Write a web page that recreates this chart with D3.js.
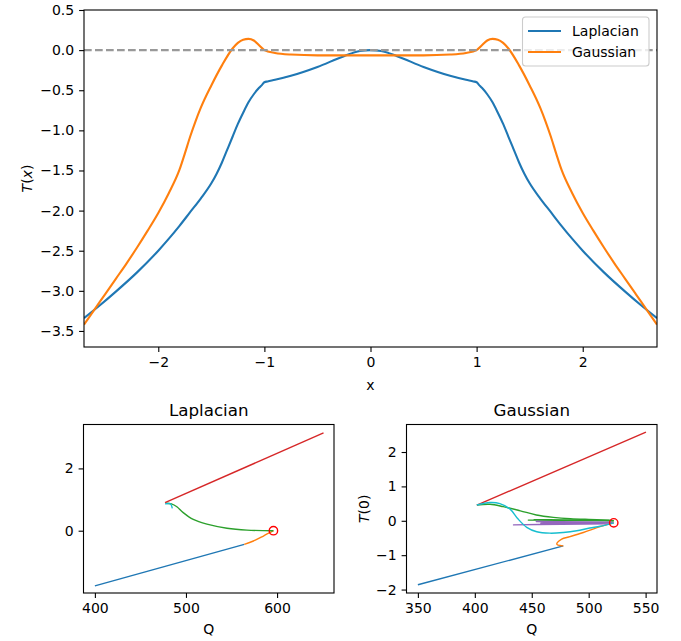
<!DOCTYPE html>
<html>
<head>
<meta charset="utf-8">
<script src="https://cdn.jsdelivr.net/npm/d3@7"></script>
<style>
  body { margin: 0; background: #fff; }
  svg text { font-family: "DejaVu Sans", sans-serif; fill: #000; }
</style>
</head>
<body>
<svg id="svgArea" width="681" height="641"></svg>
<script>
// top panel: T(x) profiles
var lapX = [-2.7, -2.55, -2.4, -2.2, -2.0, -1.9, -1.8, -1.7, -1.6, -1.5, -1.45, -1.4, -1.35, -1.3, -1.25, -1.2, -1.15, -1.1, -1.05, -1.02, -1.0,
            -0.97, -0.9, -0.75, -0.5, -0.25, -0.1, 0,
            0.1, 0.25, 0.5, 0.75, 0.9, 0.97,
            1.0, 1.02, 1.05, 1.1, 1.15, 1.2, 1.25, 1.3, 1.35, 1.4, 1.45, 1.5, 1.6, 1.7, 1.8, 1.9, 2.0, 2.2, 2.4, 2.55, 2.7];
var lapT = [-3.34, -3.18, -3.01, -2.77, -2.50, -2.35, -2.19, -2.02, -1.85, -1.66, -1.54, -1.40, -1.24, -1.08, -0.92, -0.78, -0.65, -0.55, -0.47, -0.43, -0.40,
            -0.39, -0.37, -0.32, -0.21, -0.075, -0.012, 0.0,
            -0.012, -0.075, -0.21, -0.32, -0.37, -0.39,
            -0.40, -0.43, -0.47, -0.55, -0.65, -0.78, -0.92, -1.08, -1.24, -1.40, -1.54, -1.66, -1.85, -2.02, -2.19, -2.35, -2.50, -2.77, -3.01, -3.18, -3.34];

var gauX = [-2.7, -2.6, -2.5, -2.4, -2.3, -2.2, -2.1, -2.0, -1.9, -1.8, -1.75, -1.7, -1.65, -1.6, -1.5, -1.4, -1.3, -1.25, -1.2, -1.15, -1.1, -1.05, -1.0,
            -0.9, -0.75, -0.5, 0, 0.5, 0.75, 0.9,
            1.0, 1.05, 1.1, 1.15, 1.2, 1.25, 1.3, 1.4, 1.5, 1.6, 1.65, 1.7, 1.75, 1.8, 1.9, 2.0, 2.1, 2.2, 2.3, 2.4, 2.5, 2.6, 2.7];
var gauT = [-3.42, -3.23, -3.04, -2.85, -2.66, -2.46, -2.25, -2.03, -1.78, -1.49, -1.29, -1.08, -0.89, -0.72, -0.44, -0.19, 0.02, 0.09, 0.13, 0.14, 0.12, 0.06, 0.0,
            -0.035, -0.055, -0.065, -0.065, -0.065, -0.055, -0.035,
            0.0, 0.06, 0.12, 0.14, 0.13, 0.09, 0.02, -0.19, -0.44, -0.72, -0.89, -1.08, -1.29, -1.49, -1.78, -2.03, -2.25, -2.46, -2.66, -2.85, -3.04, -3.23, -3.42];

var topYTicks = [0.5, 0.0, -0.5, -1.0, -1.5, -2.0, -2.5, -3.0, -3.5];
var topXTicks = [-2, -1, 0, 1, 2];
var legendNames = ["Laplacian", "Gaussian"];

// bottom panels: T(0) against Q, one array per branch
var lapBlue = [[400, -1.77], [564, -0.44]];
var lapOrange = [[564, -0.44], [574, -0.33], [585, -0.17], [596, 0.0]];
var lapGreen = [[596, 0.0], [567, 0.02], [545, 0.08], [523, 0.21], [508, 0.36], [497, 0.58], [490, 0.77], [484, 0.86], [478, 0.88]];
var lapCyan = [[477, 0.86], [483, 0.86], [485, 0.72]];
var lapRed = [[477, 0.90], [651, 3.14]];
var lapPoint = [596, 0.0];

var gauBlue = [[350, -1.86], [477.7, -0.73]];
var gauOrange = [[477.7, -0.73], [474.8, -0.72], [472, -0.68], [472.6, -0.63], [476.3, -0.53], [483.6, -0.46], [495.3, -0.34], [510, -0.17], [522, -0.06]];
var gauRed = [[401.8, 0.455], [550.3, 2.58]];
var gauGreen = [[401.8, 0.46], [413.4, 0.48], [425, 0.41], [440, 0.29], [454, 0.17], [469, 0.10], [484, 0.06], [507, 0.03], [522, 0.0]];
var gauGreen2 = [[522, 0.0], [447, 0.02], [518, 0.02], [452, 0.03], [520, 0.01]];
var gauCyan = [[401.8, 0.46], [413.4, 0.53], [422, 0.50], [431, 0.34], [438, 0.05], [445.6, -0.19], [454.4, -0.32], [466, -0.36],
               [477.7, -0.34], [489.5, -0.29], [501, -0.21], [510, -0.16], [522, -0.06]];
var gauPurple = [[522, -0.06], [434, -0.12], [518, -0.09], [454, -0.02], [520, -0.04], [458, -0.07], [515, -0.08], [462, -0.05], [512, -0.05]];
var gauPoint = [522, -0.06];

var lapQTicks = [400, 500, 600];
var lapTTicks = [0, 2];
var gauQTicks = [350, 400, 450, 500, 550];
var gauTTicks = [-2, -1, 0, 1, 2];

var blue = "#1f77b4", orange = "#ff7f0e", green = "#2ca02c", red = "#d62728", purple = "#9467bd", cyan = "#17becf";

var svg = d3.select("#svgArea");
var fontSize = 14;
var tickLen = 4.9;

function drawAxes(box, xScale, yScale, xTicks, yTicks, xFmt, yFmt) {
    var g = svg.append("g");
    var xa = d3.axisBottom(xScale).tickValues(xTicks).tickFormat(xFmt)
        .tickSizeInner(tickLen).tickSizeOuter(0).tickPadding(4.9);
    var ya = d3.axisLeft(yScale).tickValues(yTicks).tickFormat(yFmt)
        .tickSizeInner(tickLen).tickSizeOuter(0).tickPadding(4.9);
    var gx = g.append("g").attr("transform", "translate(0," + box.bottom + ")").call(xa);
    var gy = g.append("g").attr("transform", "translate(" + box.left + ",0)").call(ya);
    [gx, gy].forEach(function (a) {
        a.select(".domain").remove();
        a.selectAll("line").attr("stroke", "#000").attr("stroke-width", 1.1);
        a.selectAll("text").attr("font-family", "DejaVu Sans").attr("font-size", fontSize).attr("fill", "#000");
    });
    svg.append("rect")
        .attr("x", box.left).attr("y", box.top)
        .attr("width", box.right - box.left).attr("height", box.bottom - box.top)
        .attr("fill", "none").attr("stroke", "#000").attr("stroke-width", 1.1);
}

function clipFor(id, box) {
    svg.append("clipPath").attr("id", id).append("rect")
        .attr("x", box.left).attr("y", box.top)
        .attr("width", box.right - box.left).attr("height", box.bottom - box.top);
    return "url(#" + id + ")";
}

var minusFmt1 = d3.format(".1f");
var intFmt = d3.format("d");

// ---------- top panel ----------
var topBox = {left: 84, right: 657, top: 10, bottom: 347};
var tx = d3.scaleLinear().domain([-2.7, 2.7]).range([topBox.left, topBox.right]);
var ty = d3.scaleLinear().domain([-3.7, 0.5]).range([topBox.bottom, topBox.top]);
var topClip = clipFor("clipTop", topBox);

var curve = d3.line().x(function (d) { return tx(d[0]); }).y(function (d) { return ty(d[1]); })
    .curve(d3.curveMonotoneX);

svg.append("path").datum(d3.zip(lapX, lapT)).attr("d", curve)
    .attr("fill", "none").attr("stroke", blue).attr("stroke-width", 2.1).attr("clip-path", topClip);
svg.append("path").datum(d3.zip(gauX, gauT)).attr("d", curve)
    .attr("fill", "none").attr("stroke", orange).attr("stroke-width", 2.1).attr("clip-path", topClip);

svg.append("line")
    .attr("x1", topBox.left).attr("x2", topBox.right)
    .attr("y1", ty(0)).attr("y2", ty(0))
    .attr("stroke", "#999").attr("stroke-width", 2.1).attr("stroke-dasharray", "7.7,3.3");

drawAxes(topBox, tx, ty, topXTicks, topYTicks, intFmt, minusFmt1);

svg.append("text").attr("x", (topBox.left + topBox.right) / 2).attr("y", 390)
    .attr("text-anchor", "middle").attr("font-size", fontSize).text("x");
var ylab = svg.append("text").attr("transform", "translate(32," + (topBox.top + topBox.bottom) / 2 + ") rotate(-90)")
    .attr("text-anchor", "middle").attr("font-size", fontSize);
ylab.append("tspan").attr("font-style", "italic").text("T");
ylab.append("tspan").text("(");
ylab.append("tspan").attr("font-style", "italic").text("x");
ylab.append("tspan").text(")");

// legend
var lg = svg.append("g");
lg.append("rect").attr("x", 522.5).attr("y", 17).attr("width", 126.5).attr("height", 49)
    .attr("rx", 3).attr("fill", "#fff").attr("fill-opacity", 0.8)
    .attr("stroke", "#ccc").attr("stroke-width", 1.1);
[blue, orange].forEach(function (c, i) {
    var y = 31 + i * 21;
    lg.append("line").attr("x1", 528).attr("x2", 561).attr("y1", y).attr("y2", y)
        .attr("stroke", c).attr("stroke-width", 2.1);
    lg.append("text").attr("x", 572).attr("y", y + 5).attr("font-size", fontSize).text(legendNames[i]);
});

// ---------- bottom panels ----------
function drawBranchPanel(box, id, qDomain, tDomain, qTicks, tTicks, branches, point, title, showYLabel) {
    var x = d3.scaleLinear().domain(qDomain).range([box.left, box.right]);
    var y = d3.scaleLinear().domain(tDomain).range([box.bottom, box.top]);
    var clip = clipFor(id, box);
    var line = d3.line().x(function (d) { return x(d[0]); }).y(function (d) { return y(d[1]); });
    branches.forEach(function (b) {
        line.curve(b.smooth ? d3.curveCatmullRom.alpha(0.5) : d3.curveLinear);
        svg.append("path").datum(b.pts).attr("d", line)
            .attr("fill", "none").attr("stroke", b.color).attr("stroke-width", 1.4)
            .attr("stroke-linejoin", "round").attr("clip-path", clip);
    });
    svg.append("circle").attr("cx", x(point[0])).attr("cy", y(point[1])).attr("r", 4.2)
        .attr("fill", "none").attr("stroke", "red").attr("stroke-width", 1.4);
    drawAxes(box, x, y, qTicks, tTicks, intFmt, intFmt);
    svg.append("text").attr("x", (box.left + box.right) / 2).attr("y", 416)
        .attr("text-anchor", "middle").attr("font-size", 16.7).text(title);
    svg.append("text").attr("x", (box.left + box.right) / 2).attr("y", 634)
        .attr("text-anchor", "middle").attr("font-size", fontSize).text("Q");
    if (showYLabel) {
        var t = svg.append("text")
            .attr("transform", "translate(" + (box.left - 38) + "," + (box.top + box.bottom) / 2 + ") rotate(-90)")
            .attr("text-anchor", "middle").attr("font-size", fontSize);
        t.append("tspan").attr("font-style", "italic").text("T");
        t.append("tspan").text("(0)");
    }
}

drawBranchPanel({left: 83.5, right: 334, top: 424.5, bottom: 593}, "clipLap",
    [387.5, 662.5], [-2.0, 3.41], lapQTicks, lapTTicks,
    [{pts: lapBlue, color: blue}, {pts: lapOrange, color: orange, smooth: true},
     {pts: lapGreen, color: green, smooth: true}, {pts: lapCyan, color: cyan, smooth: true},
     {pts: lapRed, color: red}],
    lapPoint, "Laplacian", false);

drawBranchPanel({left: 406.5, right: 657, top: 424.5, bottom: 593}, "clipGau",
    [340, 560], [-2.1, 2.8], gauQTicks, gauTTicks,
    [{pts: gauBlue, color: blue}, {pts: gauOrange, color: orange, smooth: true},
     {pts: gauGreen, color: green, smooth: true}, {pts: gauGreen2, color: green},
     {pts: gauRed, color: red}, {pts: gauPurple, color: purple},
     {pts: gauCyan, color: cyan, smooth: true}],
    gauPoint, "Gaussian", true);
</script>
</body>
</html>
